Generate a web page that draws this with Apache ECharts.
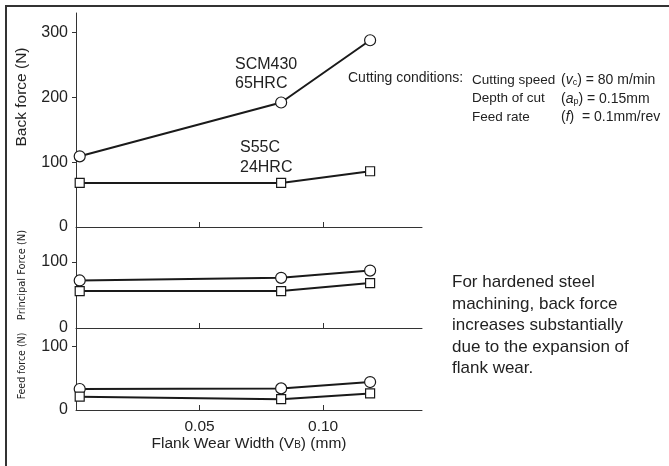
<!DOCTYPE html>
<html>
<head>
<meta charset="utf-8">
<script src="https://cdn.jsdelivr.net/npm/echarts@6/dist/echarts.min.js"></script>
<style>
  html, body { margin: 0; padding: 0; background: #fff; }
  #main { width: 669px; height: 466px; }
</style>
</head>
<body>
<div id="main"></div>
<script>
// 摩耗幅 VB (mm)
var wearWidth = [0.0015, 0.083, 0.119];

// 背分力 Back force
var backSCM430 = [109, 192, 288];
var backS55C = [68, 68, 86];
// 主分力 Principal force
var principalSCM430 = [72, 76, 87];
var principalS55C = [56, 56, 68];
// 送り分力 Feed force
var feedSCM430 = [33, 34, 44];
var feedS55C = [21, 17, 26];

var xTicks = [0.05, 0.10];

var font = '"Liberation Sans", Arial, Helvetica, sans-serif';
var narrow = '"Liberation Sans Narrow", "DejaVu Sans Condensed", sans-serif';
var ink = '#1a1a1a';

var myChart = echarts.init(document.getElementById('main'));

function pairs(ys) {
    return ys.map(function (v, i) { return [wearWidth[i], v]; });
}

function xAxisOf(idx, showLabel) {
    return {
        type: 'value',
        gridIndex: idx,
        min: 0,
        max: 0.14,
        interval: 0.05,
        splitLine: { show: false },
        axisLine: { lineStyle: { color: '#333', width: 1 } },
        axisTick: { inside: true, length: 5, customValues: xTicks, lineStyle: { color: '#333' } },
        axisLabel: {
            show: showLabel,
            customValues: xTicks,
            margin: 9,
            color: '#222',
            fontSize: 15.5,
            fontFamily: font,
            formatter: function (v) { return v.toFixed(2); }
        },
        name: showLabel ? 'Flank Wear Width (V{s|B}) (mm)' : '',
        nameLocation: 'middle',
        nameGap: 26,
        nameTextStyle: {
            color: '#222', fontSize: 15.5, fontFamily: font,
            rich: { s: { fontSize: 10, color: '#222', fontFamily: font, padding: [3, 0, 0, 0] } }
        }
    };
}

function yAxisOf(idx, max, labels) {
    return {
        type: 'value',
        gridIndex: idx,
        min: 0,
        max: max,
        splitLine: { show: false },
        axisLine: { show: true, lineStyle: { color: '#333', width: 1 } },
        axisTick: { show: true, length: 4, customValues: labels.slice(1), lineStyle: { color: '#333' } },
        axisLabel: { customValues: labels, margin: 8, color: '#222', fontSize: 16, fontFamily: font }
    };
}

function lineSeries(name, idx, ys, symbol, size) {
    return {
        name: name,
        type: 'line',
        xAxisIndex: idx,
        yAxisIndex: idx,
        data: pairs(ys),
        symbol: symbol,
        symbolSize: size,
        showAllSymbol: true,
        lineStyle: { color: ink, width: 2 },
        itemStyle: { color: '#fff', borderColor: ink, borderWidth: 1.2 },
        z: 3,
        silent: true
    };
}

function vText(text, x, y, size, family) {
    return {
        type: 'text', x: x, y: y, rotation: Math.PI / 2,
        style: { text: text, fill: '#222', font: size + 'px ' + family, align: 'center', verticalAlign: 'middle' }
    };
}

option = {
    backgroundColor: '#fff',
    animation: false,
    grid: [
        { left: 76, right: 247, top: 13, height: 214 },
        { left: 76, right: 247, top: 227, height: 101 },
        { left: 76, right: 247, top: 328, height: 82 }
    ],
    xAxis: [xAxisOf(0, false), xAxisOf(1, false), xAxisOf(2, true)],
    yAxis: [
        yAxisOf(0, 330, [0, 100, 200, 300]),
        yAxisOf(1, 153, [0, 100]),
        yAxisOf(2, 129, [0, 100])
    ],
    series: [
        lineSeries('SCM430 back', 0, backSCM430, 'circle', 11),
        lineSeries('S55C back', 0, backS55C, 'rect', 9),
        lineSeries('SCM430 principal', 1, principalSCM430, 'circle', 11),
        lineSeries('S55C principal', 1, principalS55C, 'rect', 9),
        lineSeries('SCM430 feed', 2, feedSCM430, 'circle', 11),
        lineSeries('S55C feed', 2, feedS55C, 'rect', 9)
    ],
    graphic: [
        // 外枠（上・左）
        { type: 'line', shape: { x1: 5, y1: 6, x2: 669, y2: 6 }, style: { stroke: '#333', lineWidth: 2 } },
        { type: 'line', shape: { x1: 6, y1: 5, x2: 6, y2: 466 }, style: { stroke: '#333', lineWidth: 2 } },
        // 縦軸タイトル
        vText('Back force (N)', 22, 97, 15.5, font),
        vText('Principal Force (N)', 22, 275, 11, narrow),
        vText('Feed force (N)', 22, 366, 10.5, narrow),
        // 材料ラベル
        { type: 'text', left: 235, top: 55, style: { text: 'SCM430\n65HRC', fill: '#222', font: '16px ' + font, lineHeight: 19 } },
        { type: 'text', left: 240, top: 138, style: { text: 'S55C\n24HRC', fill: '#222', font: '16px ' + font, lineHeight: 20 } },
        // 切削条件
        { type: 'text', left: 348, top: 71, style: { text: 'Cutting conditions:', fill: '#222', font: '14px ' + font } },
        { type: 'text', left: 472, top: 71, style: { text: 'Cutting speed\nDepth of cut\nFeed rate', fill: '#222', font: '13.5px ' + font, lineHeight: 18.5 } },
        {
            type: 'text', left: 561, top: 71,
            style: {
                text: '({i|v}{s|c}) = 80 m/min\n({i|a}{s|p}) = 0.15mm\n({i|f})  = 0.1mm/rev',
                fill: '#222', font: '14px ' + font, lineHeight: 18.5,
                rich: {
                    i: { fontStyle: 'italic', fontSize: 14, fontFamily: font, fill: '#222', lineHeight: 18.5 },
                    s: { fontSize: 9, fontFamily: font, fill: '#222', lineHeight: 18.5, padding: [5, 0, 0, 0] }
                }
            }
        },
        // 説明
        {
            type: 'text', left: 452, top: 272,
            style: {
                text: 'For hardened steel\nmachining, back force\nincreases substantially\ndue to the expansion of\nflank wear.',
                fill: '#222', font: '17px ' + font, lineHeight: 21.5
            }
        }
    ]
};

myChart.setOption(option);
</script>
</body>
</html>
